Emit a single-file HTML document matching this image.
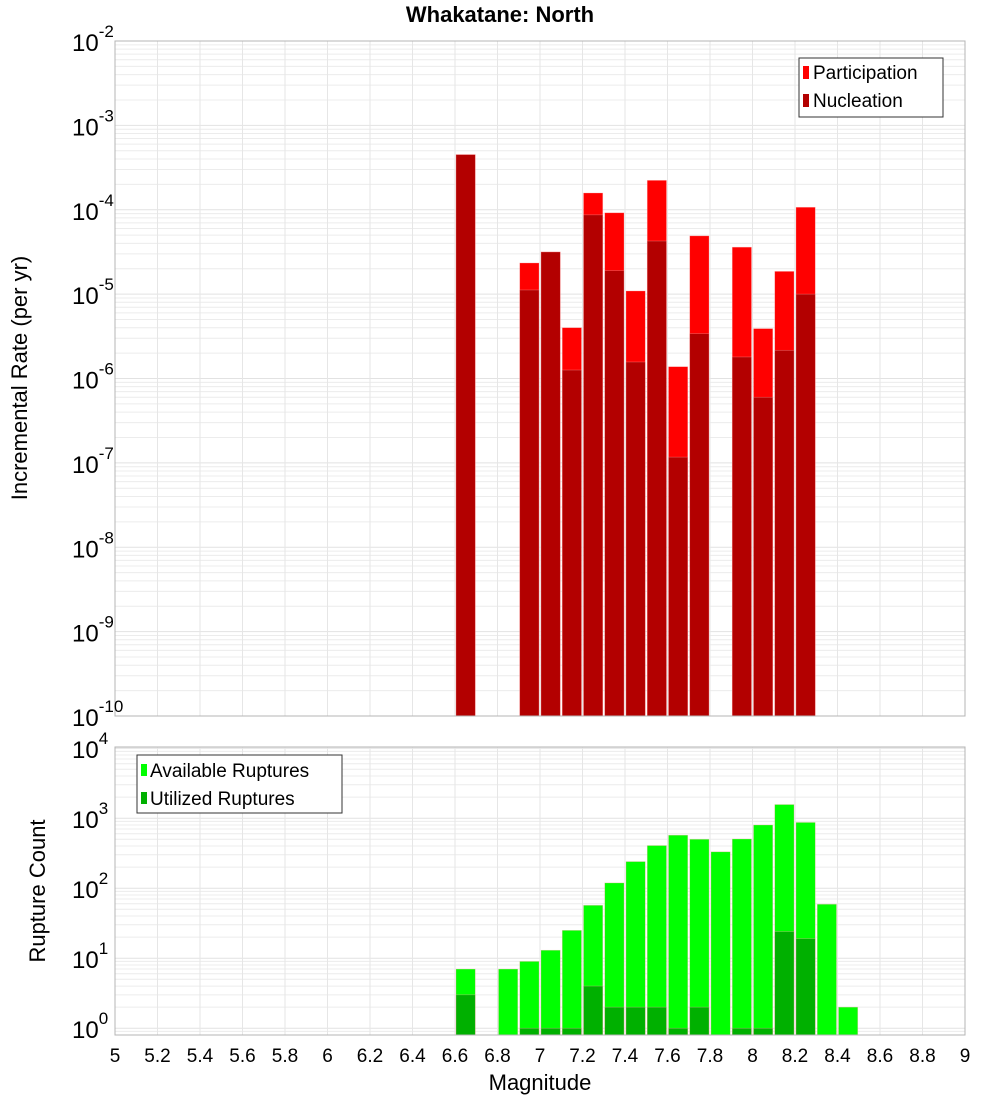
<!DOCTYPE html>
<html><head><meta charset="utf-8"><style>
body{margin:0;background:#fff}
svg{display:block;font-family:"Liberation Sans","DejaVu Sans",sans-serif}
</style></head><body>
<svg id="c" width="1000" height="1100" xmlns="http://www.w3.org/2000/svg">
<text x="500" y="22" text-anchor="middle" font-size="22" font-weight="bold">Whakatane: North</text>
<g id="top"></g><g id="bot"></g>
</svg>
<script>
const binCenters=[6.65,6.85,6.95,7.05,7.15,7.25,7.35,7.45,7.55,7.65,7.75,7.85,7.95,8.05,8.15,8.25,8.35,8.45];
const participation=[4.5e-4,0,2.34e-5,3.16e-5,4.0e-6,1.58e-4,9.2e-5,1.09e-5,2.23e-4,1.38e-6,4.9e-5,0,3.6e-5,3.9e-6,1.86e-5,1.07e-4,0,0];
const nucleation=[4.5e-4,0,1.12e-5,3.16e-5,1.26e-6,8.7e-5,1.9e-5,1.57e-6,4.26e-5,1.17e-7,3.4e-6,0,1.8e-6,6.0e-7,2.16e-6,1.0e-5,0,0];
const available=[7,7,9,13,25,57,119,240,407,572,500,331,505,800,1567,870,59,2];
const utilized=[3,0,1,1,1,4,2,2,2,1,2,0,1,1,24,19,0,0];
const xTicks=[5,5.2,5.4,5.6,5.8,6,6.2,6.4,6.6,6.8,7,7.2,7.4,7.6,7.8,8,8.2,8.4,8.6,8.8,9];
const topExps=[-2,-3,-4,-5,-6,-7,-8,-9,-10];
const botExps=[4,3,2,1,0];

const NS="http://www.w3.org/2000/svg";
const L=115,R=965;
const x=m=>L+(m-5)/4*(R-L);
function mk(p,t,a){const e=document.createElementNS(NS,t);for(const k in a)e.setAttribute(k,a[k]);p.appendChild(e);return e;}
function panel(g,top,bot,lmin,lmax){
  const y=v=>bot-(Math.log10(v)-lmin)/(lmax-lmin)*(bot-top);
  for(let d=Math.floor(lmin);d<=Math.ceil(lmax);d++)for(let k=1;k<10;k++){
    const v=k*Math.pow(10,d);const lv=Math.log10(v);if(lv<lmin||lv>lmax)continue;
    const yy=y(v);const gl=mk(g,'line',{x1:L,x2:R,y1:yy,y2:yy,stroke:k==1?'#e2e2e2':'#ececec','stroke-width':1});
    
  }
  xTicks.forEach(t=>{const gl=mk(g,'line',{x1:x(t),x2:x(t),y1:top,y2:bot,stroke:'#e6e6e6'});
    });
  return y;
}
function bar(g,m,y0,y1,fill,name){
  const b=mk(g,'rect',{x:x(m-0.05)+1,y:y1,width:(R-L)/40-2,height:Math.max(0,y0-y1),fill:fill,stroke:'#ffb0b0','stroke-width':0.6,'stroke-opacity':0.5});
  
}
function ylab(g,yy,e,name){
  const t=mk(g,'text',{x:72,y:yy+10,'font-size':24});
  
  t.textContent='10';
  const s=mk(t,'tspan',{dy:-14,'font-size':17});s.textContent=e;
}
// top
const gt=document.getElementById('top');
const T0=41,T1=716;
const yT=panel(gt,T0,T1,-10,-2);
binCenters.forEach((m,i)=>{
  if(participation[i]>0)bar(gt,m,T1,yT(participation[i]),'#ff0000','bar-participation');
  if(nucleation[i]>0)bar(gt,m,T1,yT(nucleation[i]),'#b30000','bar-nucleation');
});
mk(gt,'rect',{x:L,y:T0,width:R-L,height:T1-T0,fill:'none',stroke:'#b4b4b4'});
topExps.forEach(e=>ylab(gt,yT(Math.pow(10,e)),e,'y-tick-label'));
// bottom
const gb=document.getElementById('bot');
const B0=747,B1=1035;
const yB=panel(gb,B0,B1,Math.log10(0.8),4.017);
binCenters.forEach((m,i)=>{
  if(available[i]>0)bar(gb,m,B1,yB(available[i]),'#00ff00','bar-available');
  if(utilized[i]>0)bar(gb,m,B1,yB(utilized[i]),'#00b000','bar-utilized');
});
mk(gb,'rect',{x:L,y:B0,width:R-L,height:B1-B0,fill:'none',stroke:'#b4b4b4'});
botExps.forEach(e=>ylab(gb,yB(Math.pow(10,e)),e,'y-tick-label-bottom'));
xTicks.forEach(t=>{const tx=mk(gb,'text',{x:x(t),y:1062,'font-size':19,'text-anchor':'middle'});
  
  tx.textContent=String(t);});
</script>
<svg width="0" height="0"></svg>
<div style="position:absolute;left:0;top:0">
<svg width="1000" height="1100" xmlns="http://www.w3.org/2000/svg" style="font-family:'Liberation Sans','DejaVu Sans',sans-serif">
<text x="540" y="1090" text-anchor="middle" font-size="22">Magnitude</text>
<text transform="translate(27,378) rotate(-90)" text-anchor="middle" font-size="22">Incremental Rate (per yr)</text>
<text transform="translate(45,891) rotate(-90)" text-anchor="middle" font-size="22">Rupture Count</text>
<g>
<rect x="799" y="58" width="144" height="59" fill="#fff" stroke="#333"/>
<rect x="803" y="66" width="6" height="13" fill="#ff0000"/>
<text x="813" y="79" font-size="19">Participation</text>
<rect x="803" y="94" width="6" height="13" fill="#b30000"/>
<text x="813" y="107" font-size="19">Nucleation</text>
</g>
<g>
<rect x="137" y="755" width="205" height="58" fill="#fff" stroke="#333"/>
<rect x="141" y="764" width="6" height="12" fill="#00ff00"/>
<text x="150" y="777" font-size="19">Available Ruptures</text>
<rect x="141" y="792" width="6" height="12" fill="#00b000"/>
<text x="150" y="805" font-size="19">Utilized Ruptures</text>
</g>
</svg></div>
</body></html>
